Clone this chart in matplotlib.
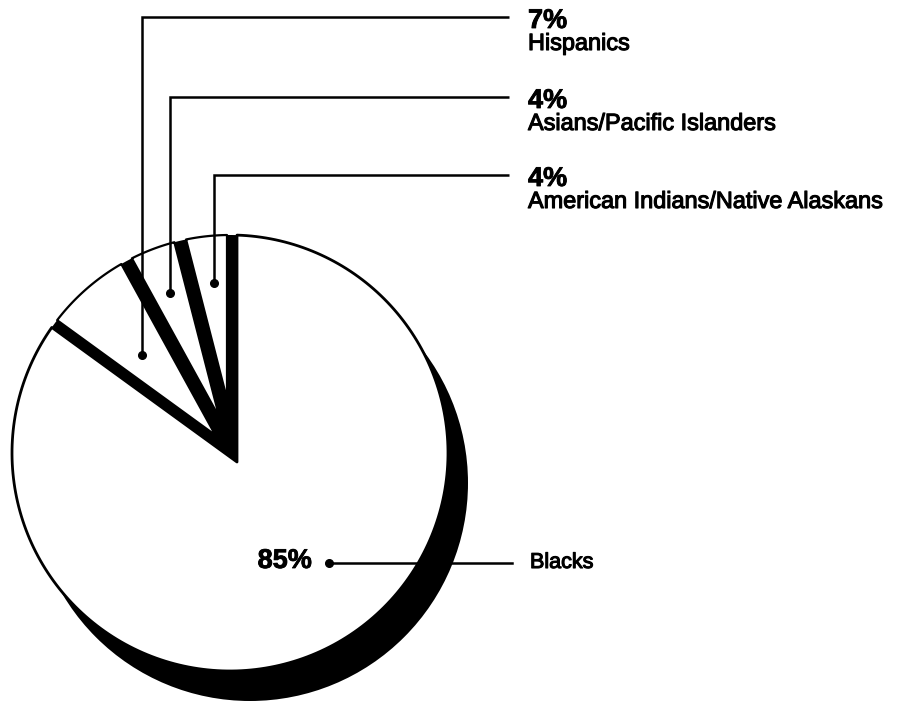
import numpy as np
import matplotlib
matplotlib.use("Agg")
import matplotlib.pyplot as plt
import matplotlib.patheffects as pe
from matplotlib.patches import Polygon, Circle

# Racial/ethnic composition (percent)
groups = ["Blacks", "Hispanics", "Asians/Pacific Islanders",
          "American Indians/Native Alaskans"]
shares = [85, 7, 4, 4]
pct_labels = ["85%", "7%", "4%", "4%"]

plt.rcParams["font.family"] = ["Liberation Sans", "DejaVu Sans"]

fig = plt.figure(figsize=(9.05, 7.05), dpi=100)
ax = fig.add_axes([0, 0, 1, 1])
ax.set_xlim(0, 905)
ax.set_ylim(-705, 0)
ax.axis("off")

# pie geometry (figure pixels, y measured downward as negative values)
C = np.array([230.0, -453.0])      # centre of the outer rim
R = 218.0
P = np.array([237.0, -462.0])      # common apex of the slices
SHADOW = np.array([20.0, -30.0])   # drop-shadow offset

heavy = [pe.withStroke(linewidth=0.8, foreground="black")]
heavy_bold = [pe.withStroke(linewidth=0.6, foreground="black")]


def unit(deg):
    r = np.deg2rad(deg)
    return np.array([np.cos(r), np.sin(r)])


def hit_circle(q, u):
    d = q - C
    b = u @ d
    c = d @ d - R * R
    return q + (-b + np.sqrt(b * b - c)) * u


def arc(p0, p1, clockwise=False, n=240):
    a0 = np.arctan2(p0[1] - C[1], p0[0] - C[0])
    a1 = np.arctan2(p1[1] - C[1], p1[0] - C[0])
    if clockwise:
        while a1 > a0:
            a1 -= 2 * np.pi
    else:
        while a1 < a0:
            a1 += 2 * np.pi
    t = np.linspace(a0, a1, n)
    return C + R * np.column_stack([np.cos(t), np.sin(t)])


def intersect(q1, u1, q2, u2):
    m = np.column_stack([u1, -u2])
    t, _ = np.linalg.solve(m, q2 - q1)
    return q1 + t * u1


total = float(sum(shares))
start = 90.0
bounds = {}
theta = start
for i in (3, 2, 1):                       # small slices, counter-clockwise from the top
    span = 360.0 * shares[i] / total
    bounds[i] = (theta, theta + span)
    theta += span
bounds[0] = (theta, start + 360.0)        # the large slice takes the rest

# drop shadow
ax.add_patch(Circle(C + SHADOW, R, facecolor="black", edgecolor="none", zorder=1))

# black sector behind the small slices
top = hit_circle(P, unit(start))
edge = hit_circle(P, unit(bounds[0][0]))
sector = np.vstack([P, arc(top, edge, clockwise=False)])
ax.add_patch(Polygon(sector, closed=True, facecolor="black", edgecolor="none", zorder=2))

# large slice
big = np.vstack([P, arc(top, edge, clockwise=True)])
ax.add_patch(Polygon(big, closed=True, facecolor="white", edgecolor="black",
                     linewidth=2.0, joinstyle="round", zorder=3))

# small slices, separated by black bands
gaps = {3: (10.0, 6.0), 2: (6.0, 6.0), 1: (6.0, 9.0)}
for i in (3, 2, 1):
    t1, t2 = bounds[i]
    g1, g2 = gaps[i]
    u1, u2 = unit(t1), unit(t2)
    q1 = P + g1 * unit(t1 + 90)
    q2 = P + g2 * unit(t2 - 90)
    tip = intersect(q1, u1, q2, u2)
    o1 = hit_circle(q1, u1)
    o2 = hit_circle(q2, u2)
    poly = np.vstack([tip, arc(o1, o2, clockwise=False), tip])
    ax.add_patch(Polygon(poly, closed=True, facecolor="white", edgecolor="black",
                         linewidth=1.6, joinstyle="round", zorder=4))

# leader lines for the small slices
dot_r = {1: 143.0, 2: 182.0, 3: 180.0}
line_y = {1: 17.0, 2: 97.0, 3: 175.0}
line_end = 509.0
text_x = 528.0
for i in (1, 2, 3):
    mid = 0.5 * (bounds[i][0] + bounds[i][1])
    d = P + dot_r[i] * unit(mid)
    ax.plot([d[0], d[0], line_end], [d[1], -line_y[i], -line_y[i]],
            color="black", linewidth=1.8, solid_joinstyle="miter",
            solid_capstyle="butt", zorder=6)
    ax.plot(d[0], d[1], "o", color="black", markersize=5.5, zorder=7)
    ax.text(text_x, -(line_y[i] + 11), pct_labels[i], fontsize=19.5,
            fontweight="bold", ha="left", va="baseline", zorder=8,
            path_effects=heavy_bold)
    ax.text(text_x, -(line_y[i] + 33), groups[i], fontsize=16.9,
            ha="left", va="baseline", zorder=8, path_effects=heavy)

# label for the large slice
by = -563.0
ax.plot([329, 512], [by, by], color="black", linewidth=1.8, zorder=6)
ax.plot(329, by, "o", color="black", markersize=5.5, zorder=7)
ax.text(312, by - 5, pct_labels[0], fontsize=19.5, fontweight="bold",
        ha="right", va="baseline", zorder=8, path_effects=heavy_bold)
ax.text(530, by - 5, groups[0], fontsize=15.5, ha="left", va="baseline",
        zorder=8, path_effects=heavy)

fig.savefig("out.png", dpi=100, facecolor="white")
